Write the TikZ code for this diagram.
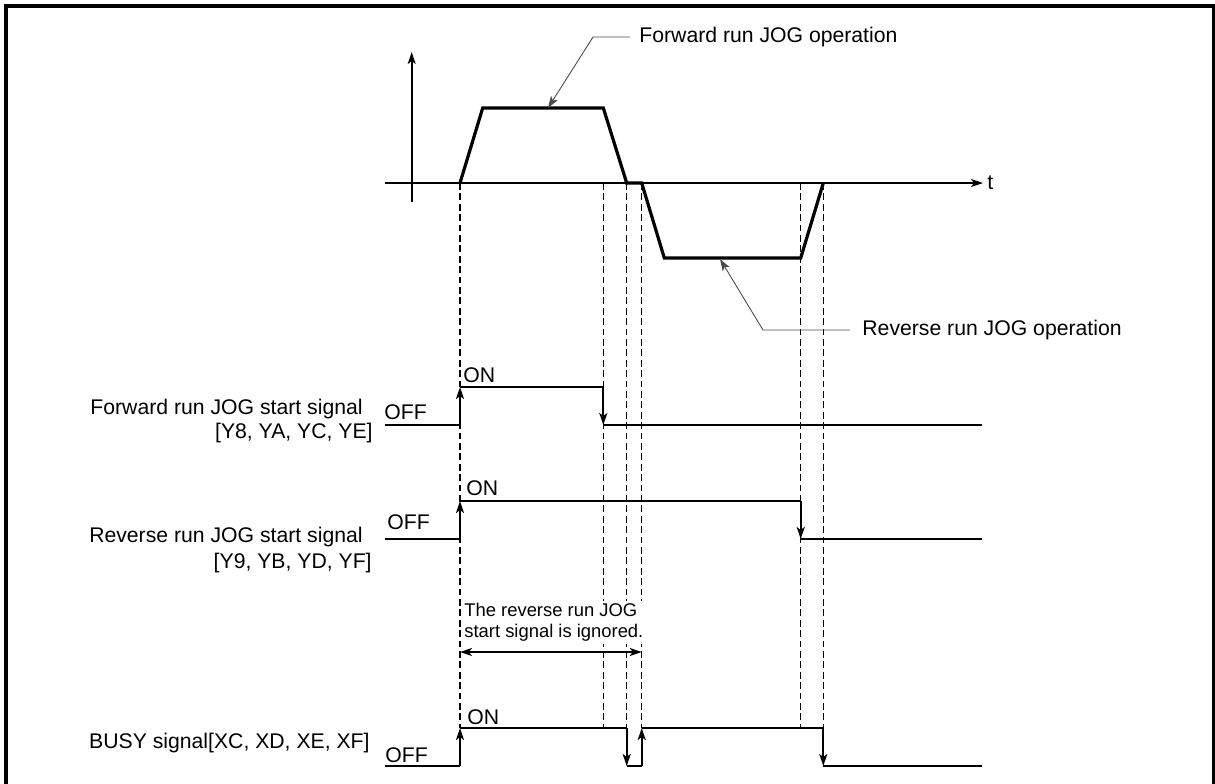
\documentclass[tikz,border=0pt]{standalone}
\usepackage{fontspec}
\setmainfont{Liberation Sans}
\usetikzlibrary{arrows.meta, positioning, calc}

\begin{document}
\begin{tikzpicture}[
  x=0.5pt, y=-0.5pt,
  font=\fontsize{10.6}{12.7}\selectfont,
  tip/.style={-{Stealth[length=6pt, width=4pt, inset=1.5pt]}},
  prof/.style={line width=1.6pt},
  sig/.style={line width=1pt},
  guide/.style={line width=0.7pt, dash pattern=on 3.4pt off 1.8pt},
  leader/.style={line width=0.45pt, draw=black!70, tip},
  lbl/.style={inner sep=0pt},
]
  \useasboundingbox (0,0) rectangle (1215,783);

  % Frame (open at the bottom)
  \draw[line width=1.75pt] (6,800) -- (6,6) -- (1213.5,6) -- (1213.5,800);

  % Axes
  \coordinate (vlo) at (411.7,202);
  \coordinate (vhi) at (411.7,52);
  \coordinate (hlo) at (385,183);
  \coordinate (hhi) at (983,183);
  \draw[line width=0.8pt, tip] (vlo) -- (vhi);
  \draw[line width=0.8pt, tip] (hlo) -- (hhi);
  \node[lbl, anchor=west] (tlbl) at (987,183) {t};

  % Time marks on the axis
  \foreach \n/\x in {a/460, b/603.3, c/626.7, d/641.7, e/800.7, f/823.3}
    \coordinate (t\n) at (\x,183);

  % Dashed guides down to the BUSY signal
  \foreach \n in {a,b,c,d,e,f}
    \draw[guide] (t\n) -- ++(0,545);

  % Speed profile
  \draw[prof] (ta) -- (482.7,108) -- (603.3,108) -- (tc) -- (td)
    -- (664.3,258) -- (800.7,258) -- (tf);

  % Operation labels
  \node[lbl, anchor=west] (fwdop) at (639,37) {Forward run JOG operation};
  \node[lbl, anchor=west] (revop) at (862,330) {Reverse run JOG operation};
  \draw[leader] (630,37) -- (593,37) -- (548,108);
  \draw[leader] (850,330) -- (763,330) -- (720,259);

  % Forward run JOG start signal
  \node[lbl, anchor=east] (fwd1) at (363,409) {Forward run JOG start signal};
  \node[lbl, anchor=east] (fwd2) at (373,433) {[Y8, YA, YC, YE]};
  \node[lbl, anchor=west] (fwdoff) at (384,412) {OFF};
  \node[lbl, anchor=west] (fwdon)  at (463,375) {ON};
  \draw[sig] (385,425) -- (460,425);
  \draw[sig, tip] (460,425) -- (460,387);
  \draw[sig] (460,387) -- (603.3,387);
  \draw[sig, tip] (603.3,387) -- (603.3,425);
  \draw[sig] (603.3,425) -- (982,425);

  % Reverse run JOG start signal
  \node[lbl, anchor=east] (rev1) at (363,537) {Reverse run JOG start signal};
  \node[lbl, anchor=east] (rev2) at (372,563) {[Y9, YB, YD, YF]};
  \node[lbl, anchor=west] (revoff) at (387,522) {OFF};
  \node[lbl, anchor=west] (revon)  at (466,488) {ON};
  \draw[sig] (385,539) -- (460,539);
  \draw[sig, tip] (460,539) -- (460,501);
  \draw[sig] (460,501) -- (800.7,501);
  \draw[sig, tip] (800.7,501) -- (800.7,539);
  \draw[sig] (800.7,539) -- (982,539);

  % Ignored interval
  \node[anchor=west, align=left, fill=white, inner sep=1pt,
        font=\fontsize{9.2}{10.5}\selectfont] (ign) at (462,622.5)
    {The reverse run JOG\\start signal is ignored.};
  \draw[line width=0.7pt, {Stealth[length=6pt, width=4pt, inset=1.5pt]}-{Stealth[length=6pt, width=4pt, inset=1.5pt]}]
    (460,652) -- (641.7,652);

  % BUSY signal
  \node[lbl, anchor=east] (busy) at (370,743) {BUSY signal[XC, XD, XE, XF]};
  \node[lbl, anchor=west] (busyoff) at (385,755) {OFF};
  \node[lbl, anchor=west] (busyon)  at (467,717) {ON};
  \draw[sig] (385,766) -- (460,766);
  \draw[sig, tip] (460,766) -- (460,728);
  \draw[sig] (460,728) -- (626.7,728);
  \draw[sig, tip] (626.7,728) -- (626.7,766);
  \draw[sig] (626.7,766) -- (641.7,766);
  \draw[sig, tip] (641.7,766) -- (641.7,728);
  \draw[sig] (641.7,728) -- (823.3,728);
  \draw[sig, tip] (823.3,728) -- (823.3,766);
  \draw[sig] (823.3,766) -- (982,766);
\end{tikzpicture}
\end{document}
